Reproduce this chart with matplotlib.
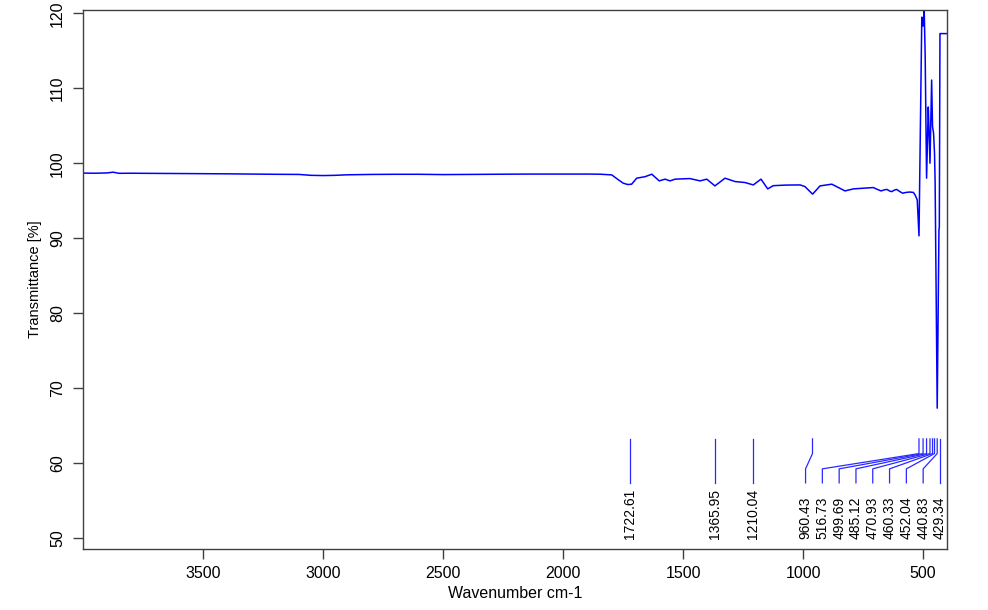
import numpy as np
import matplotlib
matplotlib.use('Agg')
import matplotlib.pyplot as plt

# spectrum (wavenumber cm-1, transmittance %)
wavenumber = [
    4000, 3950, 3900, 3875, 3850, 3800, 3700, 3600, 3500, 3400, 3300, 3200,
    3100, 3050, 3000, 2950, 2900, 2800, 2700, 2600, 2500, 2400, 2300, 2200,
    2100, 2000, 1900, 1846, 1797, 1770, 1749, 1730, 1714, 1693, 1658, 1630,
    1599, 1575, 1554, 1533, 1471, 1429, 1401, 1367, 1325, 1283, 1242, 1207,
    1175, 1147, 1124, 1070, 1012, 992, 960, 929, 880, 825, 790, 707,
    690, 675, 660, 650, 640, 630, 620, 610, 596, 585, 570, 555,
    540, 532, 524, 516.7, 505, 499.7, 495, 491, 485.1, 478, 475, 470.9,
    464, 460.3, 456, 452.0, 449.5, 440.8, 433.5, 432, 429.3, 400,
]
transmittance = [
    98.68, 98.66, 98.70, 98.80, 98.65, 98.66, 98.64, 98.62, 98.60, 98.58, 98.55, 98.52,
    98.50, 98.38, 98.35, 98.38, 98.45, 98.50, 98.52, 98.52, 98.48, 98.50, 98.52, 98.54,
    98.55, 98.55, 98.55, 98.53, 98.44, 97.80, 97.33, 97.15, 97.20, 98.00, 98.20, 98.53,
    97.64, 97.87, 97.64, 97.87, 97.95, 97.64, 97.87, 96.97, 98.00, 97.55, 97.42, 97.10,
    97.87, 96.57, 97.00, 97.08, 97.10, 96.88, 95.87, 96.97, 97.20, 96.30, 96.57, 96.75,
    96.50, 96.30, 96.45, 96.50, 96.30, 96.20, 96.40, 96.50, 96.20, 96.00, 96.10, 96.15,
    96.10, 95.70, 95.10, 90.30, 119.50, 118.30, 120.40, 114.50, 98.00, 107.50, 104.50, 100.00,
    111.10, 104.90, 104.00, 101.30, 97.50, 67.30, 91.10, 91.50, 117.30, 117.30,
]

# picked peaks
peaks = [1722.61, 1365.95, 1210.04, 960.43, 516.73, 499.69, 485.12,
         470.93, 460.33, 452.04, 440.83, 429.34]

x_ticks = [3500, 3000, 2500, 2000, 1500, 1000, 500]
y_ticks = [50, 60, 70, 80, 90, 100, 110, 120]


def set_style():
    plt.rcParams['font.family'] = ['Liberation Sans', 'DejaVu Sans']
    plt.rcParams['font.size'] = 11.5
    plt.rcParams['axes.linewidth'] = 1.0
    plt.rcParams['axes.edgecolor'] = '#404040'
    plt.rcParams['xtick.direction'] = 'out'
    plt.rcParams['ytick.direction'] = 'out'


def spread_labels(pos, gap=70.0):
    # push labels apart from the low-wavenumber end so they don't overlap
    order = np.argsort(pos)
    out = np.array(pos, dtype=float)
    last = None
    for i in order:
        if last is not None and out[i] < last + gap:
            out[i] = last + gap
        last = out[i]
    return out


def plot_spectrum():
    set_style()
    fig = plt.figure(figsize=(9.88, 6.10), dpi=100)
    ax = fig.add_axes([83 / 988, 61 / 610, 864 / 988, 539 / 610])

    ax.plot(wavenumber, transmittance, color='#0000ff', lw=1.1)

    lab_pos = spread_labels(peaks)
    for p, lp in zip(peaks, lab_pos):
        ax.plot([p, p, lp, lp], [63.2, 61.24, 59.2, 57.33], color='#2a2aff', lw=0.9)
        ax.text(lp, 49.8, f'{p:.2f}', rotation=90, ha='center', va='bottom',
                fontsize=10)

    ax.set_xlim(4000, 400)
    ax.set_ylim(48.5, 120.45)
    ax.set_xticks(x_ticks)
    ax.set_yticks(y_ticks)
    ax.tick_params(length=7, width=1, color='#404040', labelsize=11.5)
    ax.tick_params(axis='x', pad=5)
    ax.tick_params(axis='y', pad=6, labelrotation=90)
    for lab in ax.get_yticklabels():
        lab.set_va('center')

    ax.set_xlabel('Wavenumber cm-1', fontsize=11.5)
    ax.xaxis.set_label_coords(0.5, -0.068)
    ax.set_ylabel('Transmittance [%]', fontsize=10.5)
    ax.yaxis.set_label_coords(-0.047, 0.5)

    fig.savefig('out.png', dpi=100)


if __name__ == '__main__':
    plot_spectrum()
